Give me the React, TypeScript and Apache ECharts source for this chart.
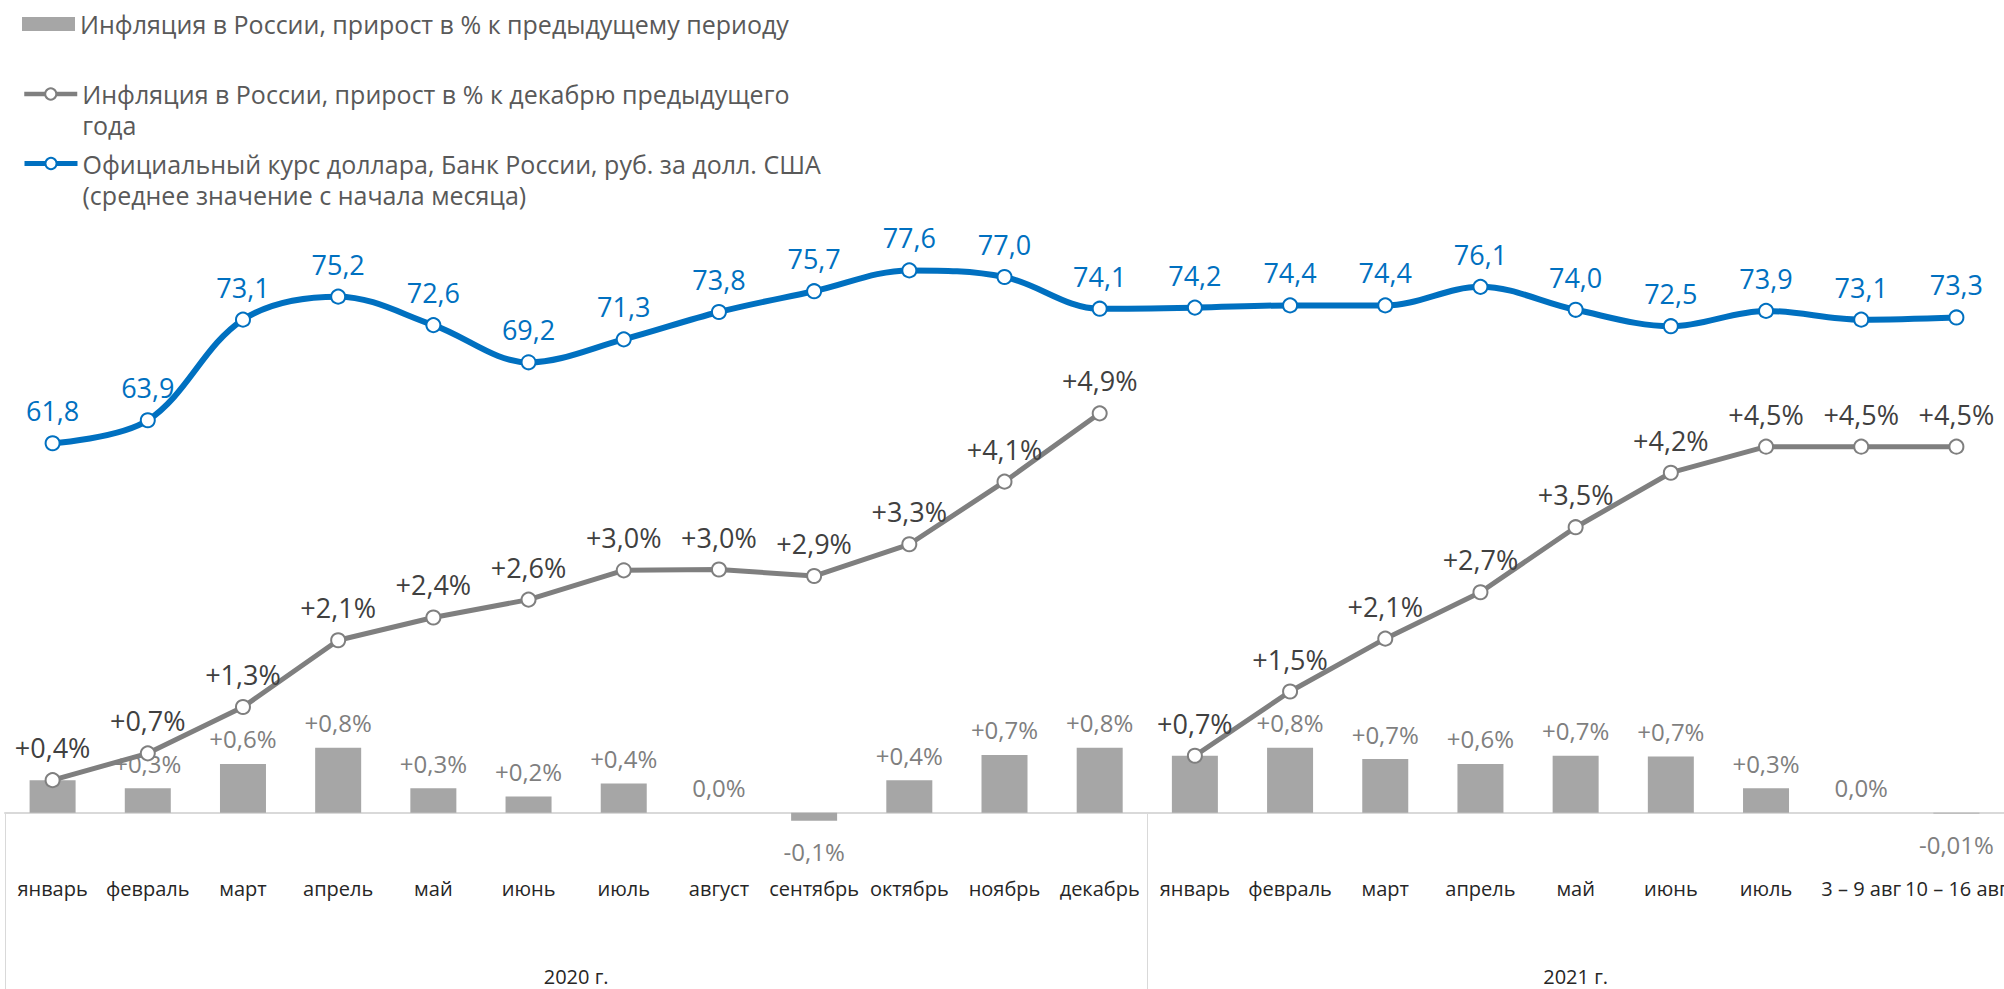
import React, { useEffect, useRef } from "react";
import * as echarts from "echarts";

const categories = [
  "январь", "февраль", "март", "апрель", "май", "июнь", "июль", "август",
  "сентябрь", "октябрь", "ноябрь", "декабрь",
  "январь", "февраль", "март", "апрель", "май", "июнь", "июль",
  "3 – 9 авг", "10 – 16 авг",
];
const monthlyInflation = [
  0.4, 0.3, 0.6, 0.8, 0.3, 0.2, 0.36, 0.0, -0.1, 0.4, 0.71, 0.8,
  0.7, 0.8, 0.66, 0.6, 0.7, 0.69, 0.3, 0.0, -0.01,
];
const ytdInflation2020 = [0.4, 0.73, 1.3, 2.12, 2.4, 2.62, 2.98, 2.99, 2.91, 3.3, 4.07, 4.91];
const ytdInflation2021 = [0.7, 1.49, 2.14, 2.71, 3.51, 4.18, 4.5, 4.5, 4.5];
const usdRate = [
  61.8, 63.9, 73.1, 75.2, 72.6, 69.2, 71.3, 73.8, 75.7, 77.6, 77.0, 74.1,
  74.2, 74.4, 74.4, 76.1, 74.0, 72.5, 73.9, 73.1, 73.3,
];
const yearLabels = ["2020 г.", "2021 г."];
const yearBoundaries = [0, 12, 21];

const barName = "Инфляция в России, прирост в % к предыдущему периоду";
const ytdLines = ["Инфляция в России, прирост в % к декабрю предыдущего", "года"];
const usdLines = ["Официальный курс доллара, Банк России, руб. за долл. США", "(среднее значение с начала месяца)"];
const ytdName = ytdLines.join(" ");
const usdName = usdLines.join(" ");

const FONT = "'Open Sans', Roboto, sans-serif";
const comma = (s: string) => s.replace(".", ",");

function barLabel(v: number) {
  if (v === 0) return "0,0%";
  if (Math.abs(v) < 0.05) return comma(v.toFixed(2)) + "%";
  return (v > 0 ? "+" : "") + comma(v.toFixed(1)) + "%";
}

export default function App() {
  const ref = useRef<HTMLDivElement>(null);
  useEffect(() => {
    if (!ref.current) return;
    const chart = echarts.init(ref.current, undefined, { renderer: "svg" });
    const yearMid = yearLabels.map((_, i) => (yearBoundaries[i] + yearBoundaries[i + 1]) / 2);
    const start2021 = yearBoundaries[1];

    const legendBase = {
      orient: "vertical",
      left: 22,
      padding: 0,
      itemWidth: 53,
      itemHeight: 14,
      textStyle: { fontFamily: FONT, fontSize: 25, color: "#595959", lineHeight: 31 },
    };

    const lineLabel = {
      show: true,
      position: "top",
      distance: 11,
      fontFamily: FONT,
      fontSize: 27,
    };

    chart.setOption({
      animation: false,
      backgroundColor: "#ffffff",
      textStyle: { fontFamily: FONT },
      grid: { left: 5, right: 0, top: 162, bottom: 176.3, containLabel: false, outerBoundsMode: "none" },
      legend: [
        { ...legendBase, top: 8.5, data: [{ name: barName, icon: "rect" }] },
        {
          ...legendBase,
          top: 47.5,
          data: [ytdName],
          lineStyle: { width: 4.5 },
          formatter: () => "\n" + ytdLines.join("\n"),
        },
        {
          ...legendBase,
          top: 117,
          data: [usdName],
          lineStyle: { width: 5 },
          formatter: () => "\n" + usdLines.join("\n"),
        },
      ],
      xAxis: [
        {
          type: "category",
          data: categories,
          position: "bottom",
          axisLine: { onZero: false, lineStyle: { color: "#d9d9d9", width: 2 } },
          axisTick: { show: false },
          axisLabel: { interval: 0, margin: 66, fontSize: 20, color: "#262626", fontFamily: FONT },
          splitLine: { show: false },
        },
        {
          type: "value",
          min: 0,
          max: yearBoundaries[yearBoundaries.length - 1],
          position: "bottom",
          axisLine: { show: false, onZero: false },
          splitLine: { show: false },
          axisTick: {
            show: true,
            customValues: yearBoundaries,
            length: 177,
            lineStyle: { color: "#d9d9d9", width: 1 },
          },
          axisLabel: {
            show: true,
            customValues: yearMid,
            formatter: (v: number) => {
              const i = yearMid.findIndex((m) => Math.abs(m - v) < 1e-6);
              return i >= 0 ? yearLabels[i] : "";
            },
            margin: 154,
            fontSize: 20,
            color: "#262626",
            fontFamily: FONT,
          },
        },
      ],
      yAxis: [
        { type: "value", min: 0, max: 8, show: false, splitLine: { show: false } },
        { type: "value", min: 28.03, max: 87.51, show: false, splitLine: { show: false } },
      ],
      series: [
        {
          name: barName,
          type: "bar",
          barWidth: 46,
          clip: false,
          itemStyle: { color: "#a6a6a6" },
          data: monthlyInflation.map((v, i) => ({
            value: v,
            label: yearBoundaries.includes(i)
              ? { show: false }
              : v < 0
              ? { position: "bottom", distance: 19 }
              : { position: "top", distance: 13 },
          })),
          label: {
            show: true,
            fontFamily: FONT,
            fontSize: 24,
            color: "#7f7f7f",
            formatter: (p: any) => barLabel(p.value),
          },
          z: 1,
        },
        {
          name: ytdName,
          type: "line",
          data: categories.map((_, i) => (i < ytdInflation2020.length ? ytdInflation2020[i] : "-")),
          symbol: "emptyCircle",
          symbolSize: 14,
          lineStyle: { color: "#7f7f7f", width: 5 },
          itemStyle: { color: "#7f7f7f", borderWidth: 2 },
          label: { ...lineLabel, color: "#404040", formatter: (p: any) => "+" + comma(Number(p.value).toFixed(1)) + "%" },
          z: 3,
        },
        {
          name: ytdName,
          type: "line",
          data: categories.map((_, i) => (i >= start2021 ? ytdInflation2021[i - start2021] : "-")),
          symbol: "emptyCircle",
          symbolSize: 14,
          lineStyle: { color: "#7f7f7f", width: 5 },
          itemStyle: { color: "#7f7f7f", borderWidth: 2 },
          label: { ...lineLabel, color: "#404040", formatter: (p: any) => "+" + comma(Number(p.value).toFixed(1)) + "%" },
          z: 3,
        },
        {
          name: usdName,
          type: "line",
          yAxisIndex: 1,
          data: usdRate,
          smooth: 0.35,
          symbol: "emptyCircle",
          symbolSize: 14,
          lineStyle: { color: "#0070c0", width: 6 },
          itemStyle: { color: "#0070c0", borderWidth: 2 },
          label: { ...lineLabel, color: "#0070c0", formatter: (p: any) => comma(Number(p.value).toFixed(1)) },
          z: 4,
        },
      ],
    });
    return () => chart.dispose();
  }, []);
  return (
    <div
      ref={ref}
      style={{ position: "fixed", left: 0, top: 0, width: 2004, height: 989, background: "#fff" }}
    />
  );
}
